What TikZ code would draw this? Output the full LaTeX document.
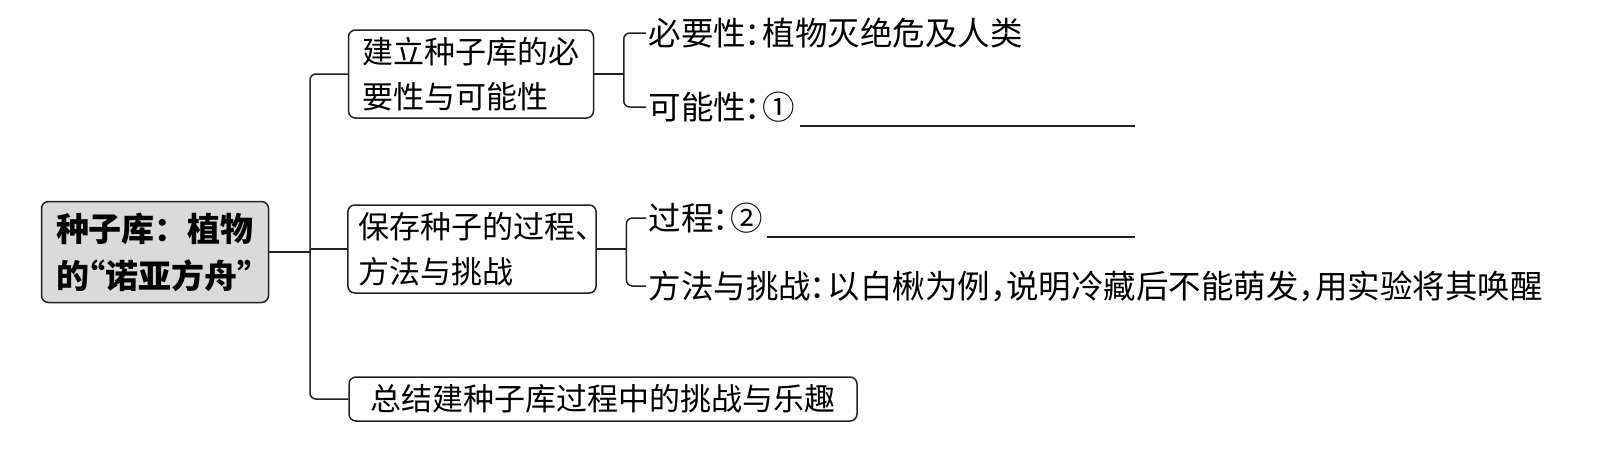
\documentclass[tikz,border=0pt]{standalone}
\usepackage{fontspec}
\setmainfont{Noto Sans CJK SC}
\usetikzlibrary{positioning,calc}
\definecolor{rootgray}{HTML}{DADADA}
\definecolor{ink}{HTML}{222222}
\newcommand\zhcolon{\makebox[.5em][l]{\kern-.05em：}}
\newcommand\zhcomma{\makebox[.5em][l]{，}}

\begin{document}
\begin{tikzpicture}[x=1pt,y=-1pt,line width=1.5pt,
  box/.style={draw=ink,rounded corners=7pt,inner xsep=11pt,inner ysep=4pt,align=left,font=\fontsize{31}{45}\selectfont},
  rootbox/.style={box,fill=rootgray,font=\bfseries\fontsize{33}{47}\selectfont,minimum width=227pt,minimum height=101pt},
  leaf/.style={inner xsep=2pt,inner ysep=0pt,anchor=west,font=\fontsize{32.5}{45}\selectfont},
  conn/.style={draw=ink,rounded corners=6pt},
  blank/.style={draw=ink,line width=1.9pt}]
\useasboundingbox (0,0) rectangle (1618,467);
\node[rootbox] (root) at (155,252) {种子库：植物\\的\makebox[.5em][r]{“}诺亚方舟\makebox[.5em][l]{”}};
\node[box,minimum width=245pt,minimum height=88pt] (b1) at (471,74) {建立种子库的必\\要性与可能性};
\node[box,minimum width=246pt,minimum height=88pt] (b2) at (472,249) {保存种子的过程\makebox[.3em][l]{、}\\方法与挑战};
\node[box,minimum width=508pt,minimum height=44pt,inner ysep=1pt] (b3) at (603,399) {总结建种子库过程中的挑战与乐趣};
\node[leaf] (n1) at (646,33) {必要性\zhcolon 植物灭绝危及人类};
\node[leaf] (n2) at (646,107) {可能性\zhcolon①};
\node[leaf] (n3) at (646,218) {过程\zhcolon②};
\node[leaf] (n4) at (646,286) {方法与挑战\zhcolon 以白楸为例\zhcomma 说明冷藏后不能萌发\zhcomma 用实验将其唤醒};
\coordinate (t) at (310,252);
\coordinate (e) at (1135,0);
\coordinate (k1) at ($(b1.east)+(29.5,0)$);
\coordinate (k2) at ($(b2.east)+(29.5,0)$);
\draw[conn] (root.east) -- (root.east -| t);
\draw[conn] (b1.west) -| (t) |- (b3.west);
\draw[conn] (b2.west) -- (b2.west -| t);
\draw[conn] (b1.east) -- (k1);
\draw[conn] (n1.west) -| (k1) |- (n2.west);
\draw[conn] (b2.east) -- (k2);
\draw[conn] (n3.west) -| (k2) |- (n4.west);
\draw[blank] ([xshift=2pt,yshift=-7pt]n2.base east) coordinate (u2) -- (u2 -| e);
\draw[blank] ([xshift=2pt,yshift=-7pt]n3.base east) coordinate (u3) -- (u3 -| e);
\end{tikzpicture}
\end{document}
